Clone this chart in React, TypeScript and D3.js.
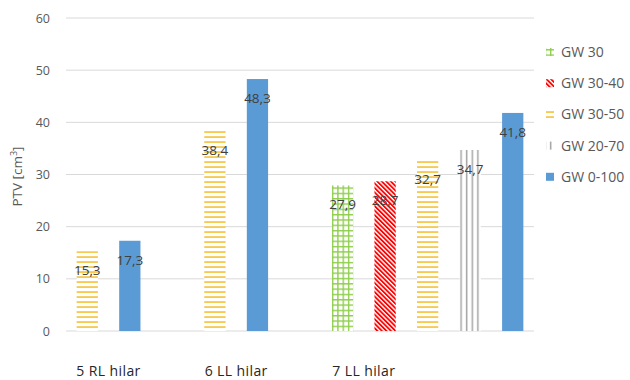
import React from "react";
import * as d3 from "d3";

// Categories, series and values (cm³). null = no bar for that series in the category.
const categories = ["5 RL hilar", "6 LL hilar", "7 LL hilar"];
const seriesNames = ["GW 30", "GW 30-40", "GW 30-50", "GW 20-70", "GW 0-100"];
const gw30 = [null, null, 27.9];
const gw3040 = [null, null, 28.7];
const gw3050 = [15.3, 38.4, 32.7];
const gw2070 = [null, null, 34.7];
const gw0100 = [17.3, 48.3, 41.8];
const yTicks = [0, 10, 20, 30, 40, 50, 60];

const seriesValues: (number | null)[][] = [gw30, gw3040, gw3050, gw2070, gw0100];

const W = 630;
const H = 380;
const plot = { left: 66, right: 534, top: 18, bottom: 331 };
const FONT = "'Open Sans', 'Liberation Sans', sans-serif";

// Slots: each category holds only the series it has, with one empty slot between categories.
type Slot = { key: string; cat: number; ser: number; value: number | null };
const slots: Slot[] = [];
categories.forEach((c, ci) => {
  seriesValues.forEach((vals, si) => {
    const v = vals[ci];
    if (v != null) slots.push({ key: `${ci}-${si}`, cat: ci, ser: si, value: v });
  });
  if (ci < categories.length - 1) slots.push({ key: `gap-${ci}`, cat: ci, ser: -1, value: null });
});

const x = d3
  .scaleBand<string>()
  .domain(slots.map((s) => s.key))
  .range([plot.left, plot.right])
  .paddingInner(0.5)
  .paddingOuter(0.25);

const y = d3.scaleLinear().domain([0, 60]).range([plot.bottom, plot.top]);

const fills = [
  "url(#pGrid)",
  "url(#pDiag)",
  "url(#pHoriz)",
  "url(#pVert)",
  "#5b9bd5",
];

const fmt = (v: number) => v.toFixed(1).replace(".", ",");

export default function App() {
  const bw = x.bandwidth();
  const bars = slots.filter((s) => s.ser >= 0);
  const vertBar = bars.find((b) => b.ser === 3);
  const vertX = vertBar ? (x(vertBar.key) as number) : 0;
  const gridBar = bars.find((b) => b.ser === 0);
  const gridX = gridBar ? (x(gridBar.key) as number) : 0;

  // category label sits under the first two bars of its group
  const catCenters = categories.map((_, ci) => {
    const s = bars.filter((b) => b.cat === ci).slice(0, 2);
    return d3.mean(s, (b) => (x(b.key) as number) + bw / 2) as number;
  });

  return (
    <svg
      width={W}
      height={H}
      style={{ position: "absolute", left: 0, top: 0, background: "#fff" }}
      fontFamily={FONT}
    >
      <defs>
        <pattern id="pGrid" patternUnits="userSpaceOnUse" x={gridX} y={plot.bottom} width={bw / 4} height={bw / 4}>
          <rect width={bw / 4} height={bw / 4} fill="#fff" />
          <line x1={0.7} x2={0.7} y1={0} y2={bw / 4} stroke="#8fce4d" strokeWidth={1.4} />
          <line x1={0} x2={bw / 4} y1={0.7} y2={0.7} stroke="#8fce4d" strokeWidth={1.4} />
        </pattern>
        <pattern id="pDiag" patternUnits="userSpaceOnUse" width={3.2} height={3.2} patternTransform="rotate(-45)">
          <rect width={3.2} height={3.2} fill="#fff" />
          <rect width={1.8} height={3.2} fill="#ff0000" />
        </pattern>
        <pattern id="pHoriz" patternUnits="userSpaceOnUse" x={0} y={plot.bottom} width={10} height={5}>
          <rect width={10} height={5} fill="#fff" />
          <rect y={0.2} width={10} height={1.7} fill="#f7c543" />
        </pattern>
        <pattern id="pVert" patternUnits="userSpaceOnUse" x={vertX} y={0} width={5.6} height={10}>
          <rect width={5.6} height={10} fill="#fff" />
          <rect x={0.8} width={1.5} height={10} fill="#a5a5a5" />
        </pattern>
      </defs>

      {/* gridlines */}
      {yTicks.map((t) => (
        <line
          key={t}
          x1={plot.left}
          x2={plot.right}
          y1={y(t)}
          y2={y(t)}
          stroke="#d9d9d9"
          strokeWidth={1}
        />
      ))}

      {/* y tick labels */}
      {yTicks.map((t) => (
        <text key={t} x={50} y={y(t) + 4.5} textAnchor="end" fontSize={12.5} fill="#595959">
          {t}
        </text>
      ))}

      {/* y axis title */}
      <text
        transform={`translate(22, ${(plot.top + plot.bottom) / 2 + 2}) rotate(-90)`}
        textAnchor="middle"
        fontSize={13.5}
        fill="#595959"
      >
        PTV [cm<tspan dy={-5} fontSize={9}>3</tspan>
        <tspan dy={5}>]</tspan>
      </text>

      {/* bars */}
      {bars.map((b) => (
        <rect
          key={b.key}
          x={x(b.key)}
          y={y(b.value as number)}
          width={bw}
          height={plot.bottom - y(b.value as number)}
          fill={fills[b.ser]}
        />
      ))}

      {/* value labels, inside end */}
      {bars.map((b) => (
        <text
          key={b.key}
          x={(x(b.key) as number) + bw / 2}
          y={y(b.value as number) + 24}
          textAnchor="middle"
          fontSize={13.5}
          fill="#404040"
        >
          {fmt(b.value as number)}
        </text>
      ))}

      {/* category labels */}
      {categories.map((c, ci) => (
        <text
          key={c}
          x={catCenters[ci]}
          y={376}
          textAnchor="middle"
          fontSize={14}
          fill="#262626"
          letterSpacing={0.4}
        >
          {c}
        </text>
      ))}

      {/* legend */}
      {seriesNames.map((s, si) => {
        const cy = 52 + si * 31.2;
        return (
          <g key={s}>
            <rect x={546} y={cy - 4} width={8} height={8} fill={fills[si]} />
            <text x={561} y={cy + 5} fontSize={14} fill="#595959">
              {s}
            </text>
          </g>
        );
      })}
    </svg>
  );
}
